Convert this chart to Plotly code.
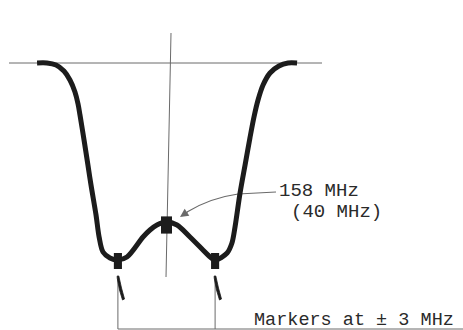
import plotly.graph_objects as go

# Filter response trace (frequency offset from centre in MHz, relative response)
freq_mhz = [-7.99, -7.38, -6.82, -6.33, -5.96, -5.65, -5.46, -5.34, -5.09, -4.85, -4.66, -4.35,
            -4.16, -3.92, -3.49, -3.0, -2.44, -1.45, -1.02, -0.59, 0.0, 0.65, 1.45, 2.25,
            2.56, 3.0, 3.74, 4.04, 4.23, 4.54, 4.85, 5.15, 5.40, 5.65, 5.96, 6.39, 6.94,
            7.50, 8.06]
response = [1.0, 1.0, 0.99, 0.96, 0.915, 0.855, 0.795, 0.74, 0.615, 0.49, 0.39, 0.24,
            0.13, 0.055, 0.025, 0.015, 0.03, 0.13, 0.165, 0.19, 0.205, 0.19, 0.13, 0.065,
            0.04, 0.015, 0.05, 0.10, 0.18, 0.35, 0.49, 0.625, 0.73, 0.815, 0.89, 0.95, 0.985,
            1.0, 1.0]

# Markers on the trace
marker_freqs = [-3.0, 0.0, 3.0]
marker_levels = [0.01, 0.19, 0.01]
marker_half_w = [0.25, 0.34, 0.25]
marker_half_h = [0.04, 0.043, 0.04]

label_centre = ["158 MHz", "(40 MHz)"]
label_markers = "Markers at \u00b1 3 MHz"

W, H = 463, 330
X0, XS = 166.5, 16.2   # px of 0 MHz, px per MHz
Y0, YS = 63.0, 200.0   # px of response 1.0, px per unit


def px(x):
    return x / W


def py(y):
    return 1 - y / H


INK = "#1c1c1c"
THIN = "#6a6a6a"
TXT = "#2a2a2a"

fig = go.Figure()
fig.add_trace(go.Scatter(x=freq_mhz, y=response, mode="lines",
                         line=dict(color=INK, width=5, shape="spline", smoothing=0.9),
                         hoverinfo="skip", showlegend=False))

shapes = []
# top reference line
shapes.append(dict(type="line", xref="paper", yref="y", x0=px(9), x1=px(322), y0=1.0, y1=1.0,
                   line=dict(color=THIN, width=1), layer="below"))
# centre vertical line (slightly tilted)
shapes.append(dict(type="line", xref="paper", yref="paper", x0=px(171), y0=py(33), x1=px(166), y1=py(277),
                   line=dict(color=THIN, width=1), layer="below"))
# marker drop lines and bottom line
for f in (marker_freqs[0], marker_freqs[2]):
    shapes.append(dict(type="line", xref="x", yref="paper", x0=f, x1=f, y0=py(279), y1=py(329),
                       line=dict(color=THIN, width=1)))
shapes.append(dict(type="line", xref="x", yref="paper", x0=marker_freqs[0], x1=(W - X0) / XS,
                   y0=py(329), y1=py(329), line=dict(color=THIN, width=1)))
# marker rectangles
for f, a, hw, hh in zip(marker_freqs, marker_levels, marker_half_w, marker_half_h):
    shapes.append(dict(type="rect", xref="x", yref="y", x0=f - hw, x1=f + hw, y0=a - hh, y1=a + hh,
                       fillcolor=INK, line=dict(width=0)))


def P(pts):
    return " ".join(("M" if i == 0 else "L") + f" {px(x):.5f},{py(y):.5f}" for i, (x, y) in enumerate(pts))


# small tapered pointers under the side markers
for base in (118, 215):
    pts = [(base - 0.8, 276), (base + 0.8, 276), (base + 3.5, 288), (base + 6.5, 299),
           (base + 4.5, 300), (base + 1.5, 290), (base - 0.8, 278)]
    shapes.append(dict(type="path", xref="paper", yref="paper", path=P(pts) + " Z",
                       fillcolor=INK, line=dict(color=INK, width=0.8)))

# leader from label to centre marker
leader = (f"M {px(276):.5f},{py(192):.5f} L {px(238):.5f},{py(194):.5f} "
          f"Q {px(210):.5f},{py(198):.5f} {px(187):.5f},{py(212):.5f}")
shapes.append(dict(type="path", xref="paper", yref="paper", path=leader,
                   line=dict(color=THIN, width=1.2), layer="below"))

annotations = [
    dict(xref="paper", yref="paper", x=px(180), y=py(217), ax=9, ay=-6, text="", showarrow=True,
         arrowhead=2, arrowsize=1.4, arrowwidth=1.2, arrowcolor=THIN),
    dict(xref="paper", yref="paper", x=px(277), y=py(191), text=label_centre[0], showarrow=False,
         xanchor="left", yanchor="middle", font=dict(family="Liberation Mono", size=19, color=TXT)),
    dict(xref="paper", yref="paper", x=px(289), y=py(212), text=label_centre[1], showarrow=False,
         xanchor="left", yanchor="middle", font=dict(family="Liberation Mono", size=19, color=TXT)),
    dict(xref="paper", yref="paper", x=px(252), y=py(320), text=label_markers, showarrow=False,
         xanchor="left", yanchor="middle", font=dict(family="Liberation Mono", size=18.5, color=TXT)),
]

fig.update_layout(
    width=W, height=H, margin=dict(l=0, r=0, t=0, b=0),
    paper_bgcolor="white", plot_bgcolor="white",
    xaxis=dict(range=[-X0 / XS, (W - X0) / XS], visible=False, fixedrange=True),
    yaxis=dict(range=[1 - (H - Y0) / YS, 1 + Y0 / YS], visible=False, fixedrange=True),
    shapes=shapes, annotations=annotations, showlegend=False,
)
fig.write_html("out.html", config={"displayModeBar": False},
               post_script="document.body.style.margin='0';document.body.style.overflow='hidden';")
